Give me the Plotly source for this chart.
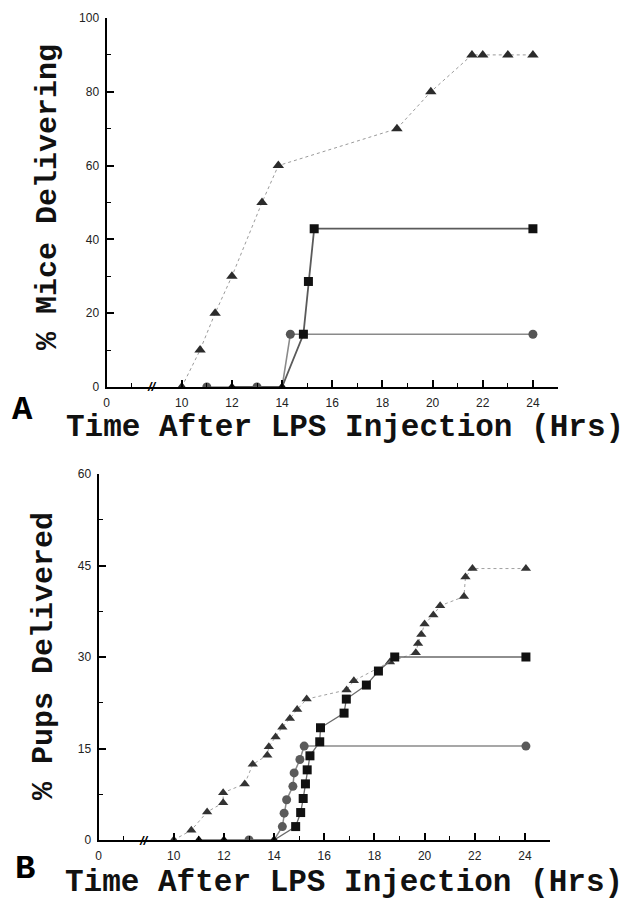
import plotly.graph_objects as go

# ---------------- data ----------------
# Panel A: % mice delivering
tri_x_A = [10, 10.73, 11.33, 12.0, 13.2, 13.85, 18.58, 19.93, 21.57, 22.0, 23.0, 24.0]
tri_y_A = [0, 10, 20, 30, 50, 60, 70, 80, 90, 90, 90, 90]
circ_x_A = [11, 13, 14, 14.33, 24]
circ_y_A = [0, 0, 0, 14.3, 14.3]
sq_x_A = [12, 14, 14.85, 15.05, 15.28, 24]
sq_y_A = [0, 0, 14.3, 28.6, 42.9, 42.9]

# Panel B: % pups delivered
tri_x_B = [10, 10.7, 11.33, 11.97, 11.97, 12.83, 13.15, 13.73, 13.79, 14.06, 14.33,
           14.63, 14.92, 15.3, 16.89, 17.18, 18.62, 19.65, 19.74, 19.87, 20.0, 20.35,
           20.62, 21.57, 21.63, 21.91, 24.04]
tri_y_B = [0, 1.6, 4.6, 6.1, 7.75, 9.2, 12.4, 13.9, 15.3, 16.9, 18.5, 19.9, 21.4, 23.1,
           24.6, 26.1, 29.2, 30.7, 32.2, 33.7, 35.4, 36.9, 38.4, 39.9, 43.1, 44.5, 44.5]
circ_x_B = [13, 14, 14.33, 14.4, 14.5, 14.75, 14.8, 15.03, 15.2, 24.04]
circ_y_B = [0, 0, 2.2, 4.4, 6.6, 8.8, 11.0, 13.2, 15.4, 15.4]
sq_x_B = [11, 12, 14, 14.86, 15.06, 15.16, 15.25, 15.32, 15.43, 15.82, 15.85, 16.79,
          16.88, 17.68, 18.16, 18.81, 24.04]
sq_y_B = [0, 0, 0, 2.2, 4.5, 6.8, 9.2, 11.5, 13.8, 16.1, 18.4, 20.8, 23.1, 25.4, 27.7,
          30.0, 30.0]

x_tickvals = [7, 10, 12, 14, 16, 18, 20, 22, 24]
x_ticktext = ["0", "10", "12", "14", "16", "18", "20", "22", "24"]
x_minor = [8, 11, 13, 15, 17, 19, 21, 23, 25]
yA_ticks = [0, 20, 40, 60, 80, 100]
yA_minor = [10, 30, 50, 70, 90]
yB_ticks = [0, 15, 30, 45, 60]
yB_minor = [7.5, 22.5, 37.5, 52.5]

x_title = "Time After LPS Injection (Hrs)"
yA_title = "% Mice Delivering"
yB_title = "% Pups Delivered"

# ---------------- styles ----------------
W, H = 633, 900
OFF = 8  # page body margin of the html page
MONO = "Liberation Mono, Courier New, monospace"
SANS = "Liberation Sans, Arial, sans-serif"

fig = go.Figure()


def add_series(x, y, xa, ya, base_sym, zero_syms, color, lcolor, lwidth, dash, size):
    symbols = zero_syms + [base_sym] * (len(x) - len(zero_syms))
    fig.add_trace(go.Scatter(
        x=x, y=y, xaxis=xa, yaxis=ya, mode="lines+markers",
        line=dict(color=lcolor, width=lwidth, dash=dash),
        marker=dict(symbol=symbols, size=size, color=color, line=dict(width=0)),
        showlegend=False, hoverinfo="skip"))


# Panel A
add_series(tri_x_A, tri_y_A, "x", "y", "triangle-up", [], "#2b2b2b", "#9a9a9a", 1, "dot", 10)
add_series(circ_x_A, circ_y_A, "x", "y", "circle", ["circle", "circle", "triangle-up"],
           "#555555", "#8a8a8a", 1.6, "solid", 9)
add_series(sq_x_A, sq_y_A, "x", "y", "square", ["triangle-up", "triangle-up"],
           "#111111", "#5a5a5a", 1.8, "solid", 9)
# Panel B
add_series(tri_x_B, tri_y_B, "x2", "y2", "triangle-up", [], "#333333", "#a0a0a0", 1, "dot", 9)
add_series(circ_x_B, circ_y_B, "x2", "y2", "circle", ["circle", "triangle-up"],
           "#5a5a5a", "#8a8a8a", 1.5, "solid", 9)
add_series(sq_x_B, sq_y_B, "x2", "y2", "square", ["triangle-up", "triangle-up", "triangle-up"],
           "#111111", "#6a6a6a", 1.3, "solid", 9)


def px(v):
    return (v - OFF) / W


def py(v):
    return 1 - (v - OFF) / H


tickfont = dict(family=SANS, size=12, color="#222")
common_x = dict(range=[7, 25], showgrid=False, zeroline=False, showline=True,
                linecolor="black", linewidth=2, ticks="inside", ticklen=7, tickwidth=1.5,
                tickcolor="black", tickmode="array", tickvals=x_tickvals, ticktext=x_ticktext,
                tickfont=tickfont, ticklabelstandoff=4, automargin=False,
                minor=dict(tickvals=x_minor, ticks="inside", ticklen=4, tickwidth=1.2,
                           tickcolor="black"))


def yax(dom, anchor, rng, major, minor):
    return dict(domain=dom, anchor=anchor, range=rng, showgrid=False,
                zeroline=False, showline=True, linecolor="black", linewidth=2,
                ticks="inside", ticklen=7, tickwidth=1.5, tickcolor="black",
                tickmode="array", tickvals=major, tickfont=tickfont,
                ticklabelstandoff=3, automargin=False,
                minor=dict(tickvals=minor, ticks="inside", ticklen=4,
                           tickwidth=1.2, tickcolor="black"))


fig.update_layout(
    width=W, height=H, margin=dict(l=0, r=0, t=0, b=0, autoexpand=False),
    paper_bgcolor="white", plot_bgcolor="white",
    xaxis=dict(domain=[px(106.5), px(558)], anchor="y", **common_x),
    xaxis2=dict(domain=[px(98.5), px(550)], anchor="y2", **common_x),
    yaxis=yax([py(387), py(18)], "x", [0, 100], yA_ticks, yA_minor),
    yaxis2=yax([py(840), py(474)], "x2", [0, 60], yB_ticks, yB_minor),
)

ann = []
xt_font = dict(family=MONO, size=31, color="#111")
yt_font = dict(family=MONO, size=30, color="#111")
ann.append(dict(text="<b>" + x_title + "</b>", x=px(345), y=py(427.5), xref="paper", yref="paper",
                showarrow=False, font=xt_font, xanchor="center", yanchor="middle"))
ann.append(dict(text="<b>" + x_title + "</b>", x=px(344), y=py(882), xref="paper", yref="paper",
                showarrow=False, font=xt_font, xanchor="center", yanchor="middle"))
ann.append(dict(text="<b>" + yA_title + "</b>", x=px(48), y=py(197), xref="paper", yref="paper",
                showarrow=False, font=yt_font, textangle=-90, xanchor="center", yanchor="middle"))
ann.append(dict(text="<b>" + yB_title + "</b>", x=px(44), y=py(656), xref="paper", yref="paper",
                showarrow=False, font=yt_font, textangle=-90, xanchor="center", yanchor="middle"))
panel_font = dict(family=MONO, size=34, color="black")
ann.append(dict(text="<b>A</b>", x=px(22), y=py(410), xref="paper", yref="paper",
                showarrow=False, font=panel_font, xanchor="center", yanchor="middle"))
ann.append(dict(text="<b>B</b>", x=px(25), y=py(869), xref="paper", yref="paper",
                showarrow=False, font=panel_font, xanchor="center", yanchor="middle"))
# axis break marks
for xr, yr in (("x", "y"), ("x2", "y2")):
    ann.append(dict(text="<b><i>//</i></b>", x=8.8, y=0, xref=xr, yref=yr, showarrow=False,
                    font=dict(family=SANS, size=13, color="black"),
                    xanchor="center", yanchor="middle"))
fig.update_layout(annotations=ann)

fig.write_html("out.html")
